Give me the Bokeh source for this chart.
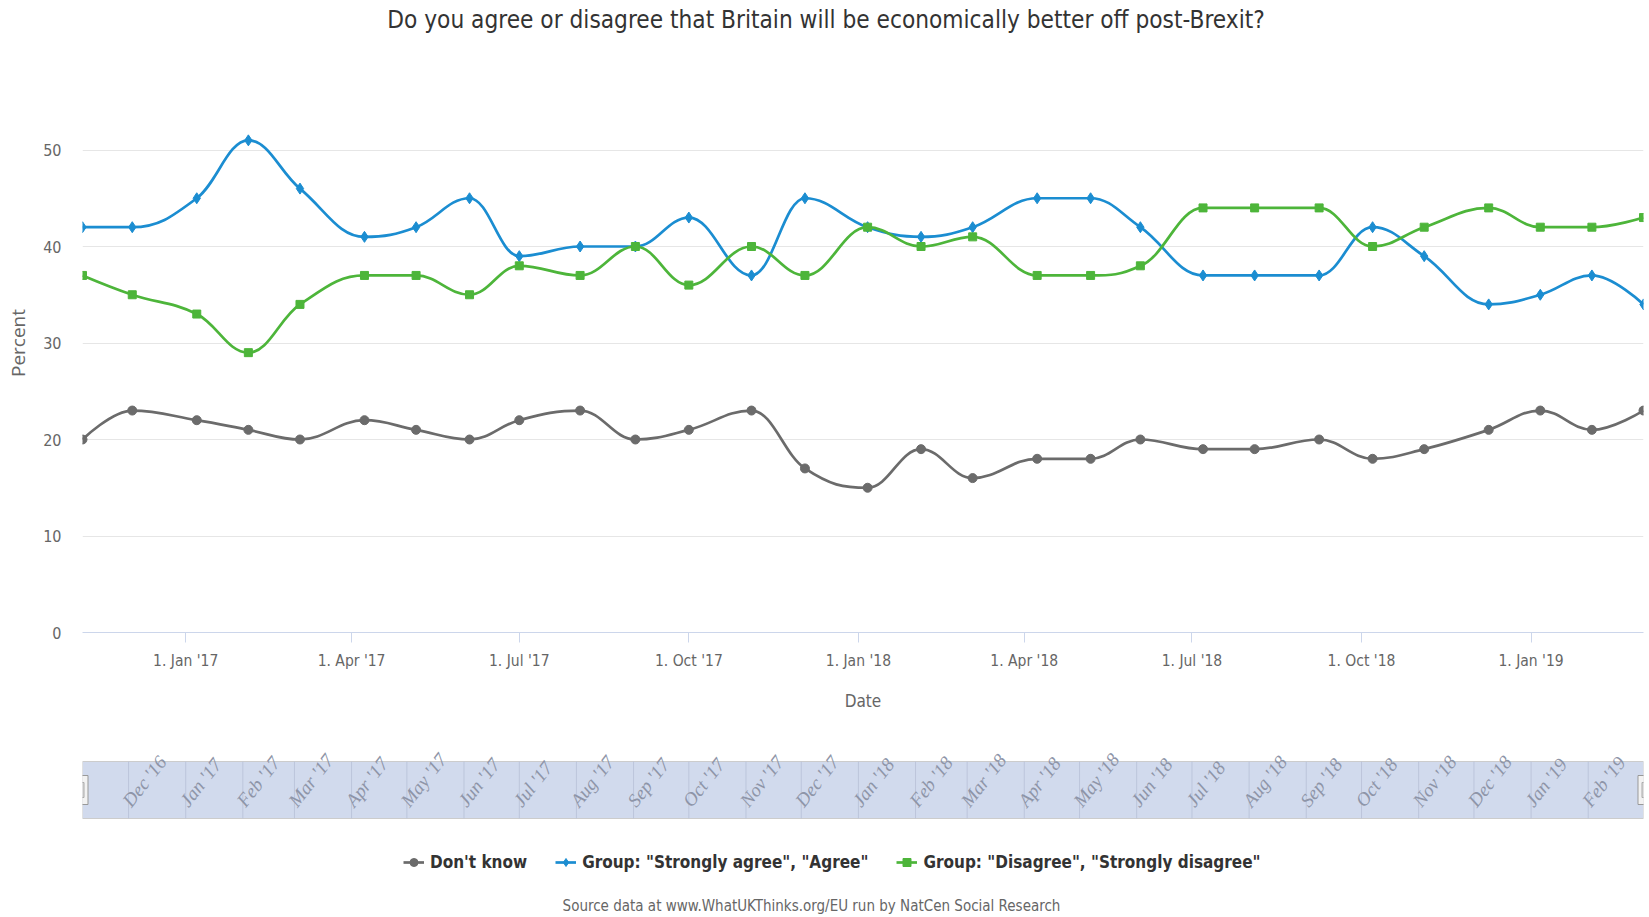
import numpy as np
import pandas as pd
from bokeh.plotting import figure
from bokeh.layouts import column
from bokeh.models import (Range1d, FixedTicker, MonthsTicker, DatetimeTickFormatter,
                          Legend, LegendItem, LabelSet, ColumnDataSource)
from bokeh.core.properties import value
from bokeh.embed import file_html
from bokeh.resources import INLINE

# ---------------- data ----------------
dates = pd.to_datetime([
    "2016-11-06", "2016-12-03", "2017-01-07", "2017-02-04", "2017-03-04", "2017-04-08",
    "2017-05-06", "2017-06-04", "2017-07-01", "2017-08-03", "2017-09-02", "2017-10-01",
    "2017-11-04", "2017-12-03", "2018-01-06", "2018-02-04", "2018-03-04", "2018-04-08",
    "2018-05-07", "2018-06-03", "2018-07-07", "2018-08-04", "2018-09-08", "2018-10-07",
    "2018-11-04", "2018-12-09", "2019-01-06", "2019-02-03", "2019-03-03",
])
dont_know = [20, 23, 22, 21, 20, 22, 21, 20, 22, 23, 20, 21, 23, 17, 15, 19, 16, 18, 18,
             20, 19, 19, 20, 18, 19, 21, 23, 21, 23]
agree = [42, 42, 45, 51, 46, 41, 42, 45, 39, 40, 40, 43, 37, 45, 42, 41, 42, 45, 45,
         42, 37, 37, 37, 42, 39, 34, 35, 37, 34]
disagree = [37, 35, 33, 29, 34, 37, 37, 35, 38, 37, 40, 36, 40, 37, 42, 40, 41, 37, 37,
            38, 44, 44, 44, 40, 42, 44, 42, 42, 43]
series_names = ["Don't know", 'Group: "Strongly agree", "Agree"',
                'Group: "Disagree", "Strongly disagree"']
y_label_ticks = [0, 10, 20, 30, 40, 50]
y_grid_ticks = [0, 10, 20, 30, 40, 50, 60]
nav_months = pd.date_range("2016-12-01", "2019-02-01", freq="MS")
nav_labels = [d.strftime("%b '%y") for d in nav_months]

TITLE = "Do you agree or disagree that Britain will be economically better off post-Brexit?"
SOURCE = "Source data at www.WhatUKThinks.org/EU run by NatCen Social Research"

colors = ["#6b6b6b", "#1b8dd1", "#4db53a"]
markers = ["circle", "diamond", "square"]
msizes = [9, 11, 8]
COND = "DejaVu Sans Condensed"

xs = dates.values.astype("datetime64[ms]").astype("int64").astype(float)


def spline_segments(x, y, smoothing=1.5):
    """Highcharts-style spline: cubic Bezier control points per segment."""
    n = len(x)
    denom = smoothing + 1
    left = [(x[i], y[i]) for i in range(n)]
    right = [(x[i], y[i]) for i in range(n)]
    for i in range(1, n - 1):
        px, py = x[i], y[i]
        lx, ly, nx, ny = x[i - 1], y[i - 1], x[i + 1], y[i + 1]
        lcx = (smoothing * px + lx) / denom
        lcy = (smoothing * py + ly) / denom
        rcx = (smoothing * px + nx) / denom
        rcy = (smoothing * py + ny) / denom
        corr = 0.0
        if rcx != lcx:
            corr = (rcy - lcy) * (rcx - px) / (rcx - lcx) + py - rcy
        lcy += corr
        rcy += corr
        if lcy > ly and lcy > py:
            lcy = max(ly, py); rcy = 2 * py - lcy
        elif lcy < ly and lcy < py:
            lcy = min(ly, py); rcy = 2 * py - lcy
        if rcy > ny and rcy > py:
            rcy = max(ny, py); lcy = 2 * py - rcy
        elif rcy < ny and rcy < py:
            rcy = min(ny, py); lcy = 2 * py - rcy
        left[i] = (lcx, lcy)
        right[i] = (rcx, rcy)
    return dict(
        x0=list(x[:-1]), y0=list(y[:-1]), x1=list(x[1:]), y1=list(y[1:]),
        cx0=[right[i][0] for i in range(n - 1)], cy0=[right[i][1] for i in range(n - 1)],
        cx1=[left[i][0] for i in range(1, n)], cy1=[left[i][1] for i in range(1, n)],
    )


W = 1649
LEFT, RIGHT = 82, 6            # frame spans page x 82 .. 1643 (frames are aligned in the column)
FX0, FX1 = LEFT, W - RIGHT
H0, H1, H2, H3 = 53, 695, 80, 89


def bare(fig):
    fig.outline_line_color = None
    fig.background_fill_color = None
    fig.border_fill_color = None
    fig.grid.visible = False
    return fig


# ---------------- title strip ----------------
p0 = bare(figure(width=W, height=H0, output_backend="svg", toolbar_location=None,
                 x_range=Range1d(FX0, FX1), y_range=Range1d(0, H0),
                 x_axis_location=None, y_axis_location=None, min_border_left=LEFT,
                 min_border_right=RIGHT, min_border_top=0, min_border_bottom=0))
p0.text(x=[825.5], y=[H0 - 19], text=[TITLE], text_align="center",
        text_baseline="middle", text_font=value(COND), text_font_size="24.2px",
        text_color="#333333")

# ---------------- main chart ----------------
p = figure(width=W, height=H1, x_axis_type="datetime", output_backend="svg",
           toolbar_location=None, x_range=Range1d(xs[0], xs[-1]), y_range=Range1d(0, 60),
           min_border_left=LEFT, min_border_right=RIGHT, min_border_top=0, min_border_bottom=116)
p.outline_line_color = None

p.yaxis.ticker = FixedTicker(ticks=y_label_ticks)
p.ygrid.ticker = FixedTicker(ticks=y_grid_ticks)
p.ygrid.grid_line_color = "#e6e6e6"
p.xgrid.visible = False
p.yaxis.axis_line_color = None
p.yaxis.major_tick_line_color = None
p.yaxis.major_tick_out = 0
p.yaxis.major_tick_in = 0
p.yaxis.minor_tick_line_color = None
p.yaxis.minor_tick_out = 0
p.yaxis.major_label_standoff = 21
p.yaxis.major_label_text_font = COND
p.yaxis.major_label_text_font_size = "16px"
p.yaxis.major_label_text_color = "#666666"
p.yaxis.axis_label = "Percent"
p.yaxis.axis_label_text_font = "Open Sans"
p.yaxis.axis_label_text_font_size = "19px"
p.yaxis.axis_label_text_font_style = "normal"
p.yaxis.axis_label_text_color = "#666666"
p.yaxis.axis_label_standoff = 9

p.xaxis.ticker = MonthsTicker(months=[0, 3, 6, 9])
p.xaxis.formatter = DatetimeTickFormatter(months="1. %b '%y", days="1. %b '%y")
p.xaxis.axis_line_color = "#ccd6eb"
p.xaxis.major_tick_line_color = "#ccd6eb"
p.xaxis.major_tick_out = 10
p.xaxis.major_tick_in = 0
p.xaxis.minor_tick_line_color = None
p.xaxis.minor_tick_out = 0
p.xaxis.major_label_standoff = 9
p.xaxis.major_label_text_font = COND
p.xaxis.major_label_text_font_size = "15.5px"
p.xaxis.major_label_text_color = "#666666"
p.xaxis.axis_label = "Date"
p.xaxis.axis_label_text_font = COND
p.xaxis.axis_label_text_font_size = "17px"
p.xaxis.axis_label_text_font_style = "normal"
p.xaxis.axis_label_text_color = "#666666"
p.xaxis.axis_label_standoff = 18

all_series = [dont_know, agree, disagree]
for vals, col, mk, ms in zip(all_series, colors, markers, msizes):
    yv = np.array(vals, dtype=float)
    p.bezier(source=ColumnDataSource(spline_segments(xs, yv)), x0="x0", y0="y0", x1="x1",
             y1="y1", cx0="cx0", cy0="cy0", cx1="cx1", cy1="cy1", line_color=col,
             line_width=2.7)
    p.scatter(xs, yv, marker=mk, size=ms, fill_color=col, line_color=col)

# ---------------- navigator ----------------
band_top, band_bottom = 13, 70          # band position inside the 80px strip
bh = band_bottom - band_top
p2 = bare(figure(width=W, height=H2, output_backend="svg", toolbar_location=None,
                 x_range=Range1d(xs[0], xs[-1]),
                 y_range=Range1d(-(H2 - band_bottom) / bh, 1 + band_top / bh),
                 x_axis_location=None, y_axis_location=None, min_border_left=LEFT,
                 min_border_right=RIGHT, min_border_top=0, min_border_bottom=0))
p2.quad(left=[xs[0]], right=[xs[-1]], bottom=[0], top=[1], fill_color="#d1daed",
        line_color="#cccccc", line_width=1)
nav_x = nav_months.values.astype("datetime64[ms]").astype("int64").astype(float)
p2.segment(x0=nav_x, y0=[0] * len(nav_x), x1=nav_x, y1=[1] * len(nav_x),
           line_color="#bcc5db", line_width=1)
p2.add_layout(LabelSet(source=ColumnDataSource(dict(x=nav_x, y=[0.18] * len(nav_x), t=nav_labels)),
                       x="x", y="y", text="t", angle=52, angle_units="deg", x_offset=3,
                       text_font=COND, text_font_style="italic", text_font_size="19px",
                       text_color="#8e95a8", text_baseline="alphabetic", text_align="left"))
hx = [xs[0], xs[-1]]
p2.rect(x=hx, y=[0.5, 0.5], width=11, height=29, width_units="screen", height_units="screen",
        fill_color="#f2f2f2", line_color="#999999", line_width=1)
p2.rect(x=hx, y=[0.5, 0.5], width=3, height=15, width_units="screen", height_units="screen",
        fill_color="#d8d8d8", line_color="#aaaaaa", line_width=1)

# ---------------- legend + source ----------------
p3 = bare(figure(width=W, height=H3, output_backend="svg", toolbar_location=None,
                 x_range=Range1d(FX0, FX1), y_range=Range1d(0, H3),
                 x_axis_location=None, y_axis_location=None, min_border_left=LEFT,
                 min_border_right=RIGHT, min_border_top=0, min_border_bottom=0))
items = []
for name, vals, col, mk, ms in zip(series_names, all_series, colors, markers, msizes):
    r1 = p3.line(xs, vals, line_color=col, line_width=2.7)
    r2 = p3.scatter(xs, vals, marker=mk, size=ms, fill_color=col, line_color=col)
    items.append(LegendItem(label=name, renderers=[r1, r2]))
legend = Legend(items=items, orientation="horizontal", location=(403 - LEFT, 45))
legend.border_line_color = None
legend.background_fill_alpha = 0
legend.label_text_font = COND
legend.label_text_font_style = "bold"
legend.label_text_font_size = "17px"
legend.label_text_color = "#333333"
legend.glyph_width = 21
legend.glyph_height = 20
legend.label_standoff = 6
legend.spacing = 28
legend.padding = 0
legend.margin = 0
p3.add_layout(legend, "center")
p3.text(x=[811], y=[H3 - 77], text=[SOURCE], text_align="center", text_baseline="middle",
        text_font=value(COND), text_font_size="15px", text_color="#666666")

layout = column(p0, p, p2, p3)
open("out.html", "w").write(file_html(layout, INLINE))
